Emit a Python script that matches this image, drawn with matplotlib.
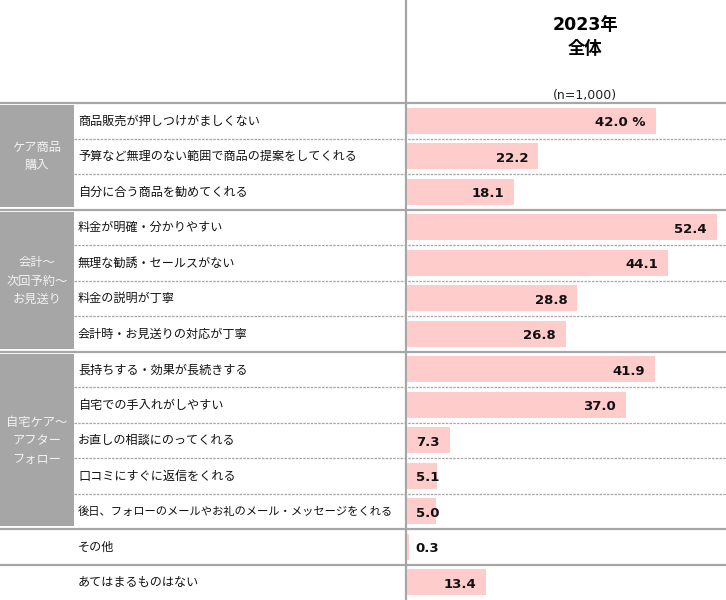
import matplotlib
matplotlib.use("Agg")
import matplotlib.pyplot as plt
from matplotlib.patches import Rectangle

plt.rcParams['font.family'] = ['Noto Sans CJK JP', 'DejaVu Sans']

# data
items = ["商品販売が押しつけがましくない",
         "予算など無理のない範囲で商品の提案をしてくれる",
         "自分に合う商品を勧めてくれる",
         "料金が明確・分かりやすい",
         "無理な勧誘・セールスがない",
         "料金の説明が丁寧",
         "会計時・お見送りの対応が丁寧",
         "長持ちする・効果が長続きする",
         "自宅での手入れがしやすい",
         "お直しの相談にのってくれる",
         "口コミにすぐに返信をくれる",
         "後日、フォローのメールやお礼のメール・メッセージをくれる",
         "その他",
         "あてはまるものはない"]
values = [42.0, 22.2, 18.1, 52.4, 44.1, 28.8, 26.8, 41.9, 37.0, 7.3, 5.1, 5.0, 0.3, 13.4]
groups = ["ケア商品\n購入", "会計～\n次回予約～\nお見送り", "自宅ケア～\nアフター\nフォロー"]
group_rows = [(0, 3), (3, 7), (7, 12)]
header = "2023年\n全体"
n_label = "(n=1,000)"

W, H = 726, 600
top = 103
row_h = (H - top) / len(items)
left_w = 74
bar_x0 = 406
px_per_unit = 5.92
line_col = "#a6a6a6"

fig = plt.figure(figsize=(W / 100, H / 100), dpi=100)

# background / table layer in pixel coords
bg = fig.add_axes([0, 0, 1, 1])
bg.set_xlim(0, W)
bg.set_ylim(H, 0)
bg.axis("off")

# gray group blocks
for (r0, r1), g in zip(group_rows, groups):
    y0 = top + r0 * row_h + 2
    y1 = top + r1 * row_h - 3
    bg.add_patch(Rectangle((0, y0), left_w, y1 - y0, color="#a6a6a6", lw=0))
    bg.text(left_w / 2, (y0 + y1) / 2 + 1, g, ha="center", va="center",
            color="#f2f2f2", fontsize=8.8, linespacing=1.55)

# row lines
solid_rows = {0, 3, 7, 12, 13}
for i in range(len(items)):
    y = top + i * row_h
    if i in solid_rows:
        bg.plot([0, W], [y, y], color=line_col, lw=1.6, solid_capstyle="butt")
    else:
        bg.plot([left_w, W], [y, y], color=line_col, lw=0.9, dashes=(2, 1))
bg.plot([bar_x0, bar_x0], [0, H], color=line_col, lw=1.6)

# item labels, shrunk if they would run into the bar column
renderer = fig.canvas.get_renderer()
for i, lab in enumerate(items):
    t = bg.text(78, top + (i + 0.5) * row_h + 0.5, lab, ha="left", va="center",
                fontsize=8.7, color="#111111")
    w = t.get_window_extent(renderer).width
    if w > bar_x0 - 88:
        t.set_fontsize(8.7 * (bar_x0 - 88) / w)

# header
bg.text(585, 37, header, ha="center", va="center", fontsize=12.5,
        fontweight="bold", linespacing=1.45,
        family=["DejaVu Sans", "Noto Sans CJK JP"])
bg.text(585, 95, n_label, ha="center", va="center", fontsize=9,
        family="DejaVu Sans", color="#222222")

# bars
ax = fig.add_axes([bar_x0 / W, 0, (W - bar_x0) / W, (H - top) / H])
ax.set_xlim(0, (W - bar_x0) / px_per_unit)
ax.set_ylim(len(items), 0)
ax.axis("off")
ax.patch.set_alpha(0)
ypos = [i + 0.5 for i in range(len(items))]
ax.barh(ypos, values, height=0.74, color="#ffcccc", left=0.15)
for i, v in enumerate(values):
    txt = f"{v:.1f}" + (" %" if i == 0 else "")
    x = max(v + 0.15 - 1.7, 5.6)
    ax.text(x, ypos[i] + 0.05, txt, ha="right", va="center", fontsize=9.5,
            fontweight="bold", family="DejaVu Sans", color="#111111")

fig.savefig("out.png", dpi=100)
